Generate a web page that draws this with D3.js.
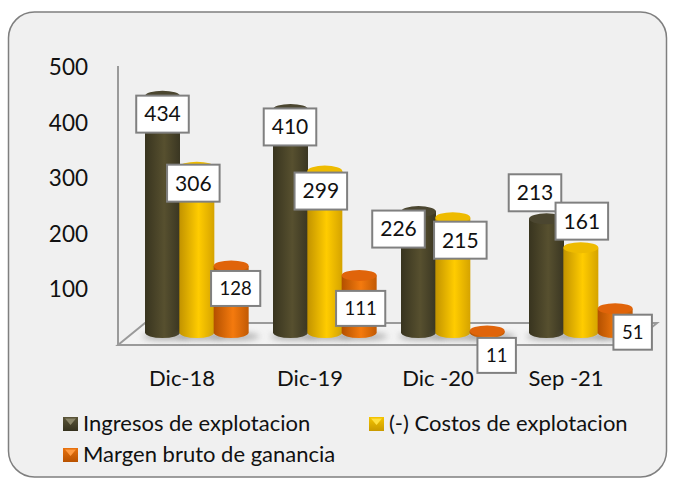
<!DOCTYPE html>
<html>
<head>
<meta charset="utf-8">
<script src="https://cdn.jsdelivr.net/npm/d3@7"></script>
<style>
html,body{margin:0;padding:0;background:#fff;}
text{font-family:Lato,"Open Sans",sans-serif;fill:#111;}
</style>
</head>
<body>
<script>
let categories = ["Dic-18", "Dic-19", "Dic -20", "Sep -21"];
let seriesNames = ["Ingresos de explotacion", "(-) Costos de explotacion", "Margen bruto de ganancia"];
let ingresos = [434, 410, 226, 213];
let costos = [306, 299, 215, 161];
let margen = [128, 111, 11, 51];
let yTicks = [100, 200, 300, 400, 500];

// label box offset from the top of each bar
let labelDx = [[0, -0.5, -20, -11.5], [-3.5, -4, 7.5, 1], [4.5, 1.5, 9.5, 17.5]];
let labelDy = [[18, 17.5, 17.5, -26], [16, 20, 22.5, -26.5], [22.5, 33, 24.5, 23.5]];
let labelSmall = [[0, 0, 0, 0], [0, 0, 0, 0], [1, 1, 1, 1]];

let allValues = [ingresos, costos, margen];
let colors = [
	{side: ["#38341f", "#57502f", "#3a3622"], top: "#4b4630", legend: ["#35311e", "#5a5438"], light: "#8a8568"},
	{side: ["#c29300", "#ffcc00", "#d5a300"], top: "#eebb00", legend: ["#c99a00", "#f5c400"], light: "#ffe040"},
	{side: ["#b35000", "#f47a0e", "#c25a04"], top: "#e0640a", legend: ["#b85200", "#e8720e"], light: "#ff9a40"}
];

let width = 676, height = 478;
let floorTop = 323, floorBottom = 345, depth = 27;
let barW = 35, ry = 5.5, topLift = 6.5, baseLift = 11;

let svg = d3.select("body").append("svg").attr("width", width).attr("height", height).style("display", "block");
let defs = svg.append("defs");

colors.forEach((c, i) => {
	let g = defs.append("linearGradient").attr("id", "side" + i);
	g.append("stop").attr("offset", "0%").attr("stop-color", c.side[0]);
	g.append("stop").attr("offset", "55%").attr("stop-color", c.side[1]);
	g.append("stop").attr("offset", "100%").attr("stop-color", c.side[2]);
	let l = defs.append("linearGradient").attr("id", "leg" + i).attr("x2", 0).attr("y2", 1);
	l.append("stop").attr("offset", "0%").attr("stop-color", c.legend[1]);
	l.append("stop").attr("offset", "100%").attr("stop-color", c.legend[0]);
});
defs.append("filter").attr("id", "soft").attr("x", "-30%").attr("width", "160%").attr("y", "-100%").attr("height", "300%")
	.append("feGaussianBlur").attr("stdDeviation", 3);

svg.append("rect").attr("x", 8.5).attr("y", 12).attr("width", 658).attr("height", 465).attr("rx", 26)
	.attr("fill", "#f0f0f0").attr("stroke", "#7f7f7f").attr("stroke-width", 1.5);

let x0 = d3.scaleBand().domain(categories).range([118, 630]);
let x1 = d3.scaleBand().domain(d3.range(3)).range([depth, depth + 103]);
let y = d3.scaleLinear().domain([0, 500]).range([343.5, 66]);

// floor and walls
let xL = x0.range()[0], xR = x0.range()[1];
svg.append("path")
	.attr("d", `M${xL},${floorBottom}L${xL + depth},${floorTop}H${xR + depth}L${xR},${floorBottom}Z`)
	.attr("fill", "#f3f3f3").attr("stroke", "#9a9a9a").attr("stroke-width", 2);
svg.append("line").attr("x1", xL).attr("x2", xL).attr("y1", y(500)).attr("y2", floorBottom)
	.attr("stroke", "#9a9a9a").attr("stroke-width", 2);

let yAxis = d3.axisLeft(y).tickValues(yTicks).tickSize(0).tickPadding(30);
let yG = svg.append("g").attr("transform", `translate(${xL},1.5)`).call(yAxis);
yG.select(".domain").remove();
yG.selectAll("text").style("font-size", "22.5px").style("font-family", null);

let xAxis = d3.axisBottom(x0).tickSize(0).tickPadding(25);
let xG = svg.append("g").attr("transform", `translate(0,${floorBottom})`).call(xAxis);
xG.select(".domain").remove();
xG.selectAll("text").style("font-size", "22px").style("font-family", null);

// bars
let groups = svg.selectAll(".cat").data(categories).enter().append("g")
	.attr("class", "cat")
	.attr("transform", d => `translate(${x0(d)},0)`);

allValues.forEach((vals, s) => {
	let bar = groups.append("g");
	let base = y(0) - baseLift;
	bar.append("ellipse")
		.attr("cx", x1(s) + barW / 2 + 4).attr("cy", base + 4)
		.attr("rx", barW / 2 + 7).attr("ry", 3.5)
		.attr("fill", "#8c8c8c").attr("opacity", 0.7).attr("filter", "url(#soft)");
	bar.append("path")
		.attr("d", (d, i) => {
			let top = y(vals[i]) - topLift, l = x1(s), r = l + barW;
			return `M${l},${top}V${base}A${barW / 2},${ry} 0 0 0 ${r},${base}V${top}Z`;
		})
		.attr("fill", `url(#side${s})`);
	bar.append("ellipse")
		.attr("cx", x1(s) + barW / 2)
		.attr("cy", (d, i) => y(vals[i]) - topLift)
		.attr("rx", barW / 2).attr("ry", ry)
		.attr("fill", colors[s].top);
});

// data labels go over all the bars
allValues.forEach((vals, s) => {
	vals.forEach((v, i) => {
		let cx = x0(categories[i]) + x1(s) + barW / 2 + labelDx[s][i];
		let cy = y(v) - topLift + labelDy[s][i];
		let small = labelSmall[s][i];
		let g = svg.append("g").attr("transform", `translate(${cx},${cy})`);
		let rect = g.append("rect").attr("fill", "#fff").attr("stroke", "#808080").attr("stroke-width", 2);
		let t = g.append("text").attr("text-anchor", "middle").attr("dy", "0.35em")
			.style("font-size", small ? "18.5px" : "21px").text(v);
		let w = t.node().getComputedTextLength() + (small ? 17 : 16);
		let h = small ? 35 : 37;
		rect.attr("x", -w / 2).attr("y", -h / 2).attr("width", w).attr("height", h);
	});
});

// legend
let legendPos = [[63, 417], [369, 417], [63, 448]];
seriesNames.forEach((name, i) => {
	let g = svg.append("g").attr("transform", `translate(${legendPos[i][0]},${legendPos[i][1]})`);
	g.append("rect").attr("width", 15).attr("height", 14).attr("fill", `url(#leg${i})`);
	g.append("path").attr("d", "M2,1.5H13L7.5,8Z").attr("fill", colors[i].light);
	g.append("text").attr("x", 20).attr("y", 13.5).style("font-size", "22px").text(name);
});
</script>
</body>
</html>
